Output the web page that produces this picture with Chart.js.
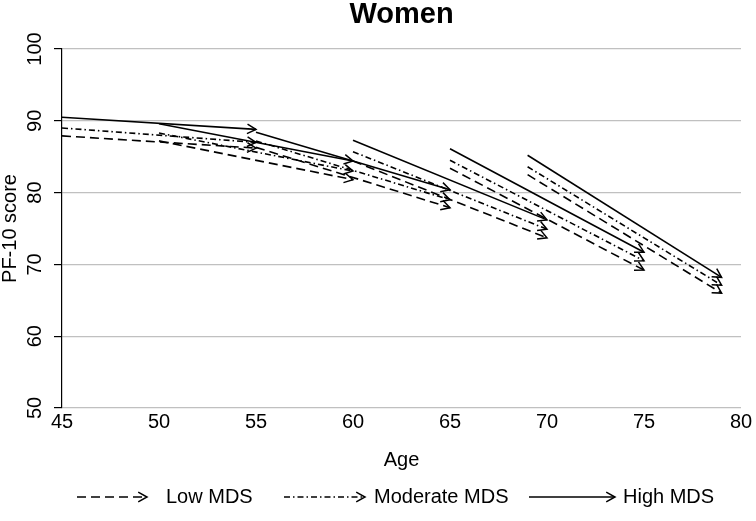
<!DOCTYPE html>
<html>
<head>
<meta charset="utf-8">
<script src="https://cdn.jsdelivr.net/npm/chart.js@4"></script>
<style>
  body { margin: 0; background: #fff; }
  #wrap { width: 756px; height: 521px; }
</style>
</head>
<body>
<div id="wrap"><canvas id="women-chart"></canvas></div>
<script>
// cohorts: each arrow runs 10 years of age
const cohortStart = [45, 50, 55, 60, 65, 69]
const cohortEnd = [55, 60, 65, 70, 75, 79]

// PF-10 score at start / end of each arrow
const lowFrom = [87.9, 87.2, 86.3, 84.4, 83.4, 82.5]
const lowTo = [86.2, 81.8, 77.9, 73.7, 69.2, 66.0]
const moderateFrom = [89.0, 88.3, 87.2, 85.7, 84.5, 83.6]
const moderateTo = [87.0, 83.0, 79.0, 74.9, 70.5, 67.1]
const highFrom = [90.5, 89.6, 88.4, 87.3, 86.1, 85.2]
const highTo = [88.8, 84.4, 80.4, 76.2, 71.7, 68.2]

const groupNames = ["Low MDS", "Moderate MDS", "High MDS"]
const groupFrom = [lowFrom, moderateFrom, highFrom]
const groupTo = [lowTo, moderateTo, highTo]
const groupDash = [[9, 5], [6, 3, 1.5, 3], []]

const FONT = '"Liberation Sans", Arial, sans-serif'
Chart.defaults.font.family = FONT
Chart.defaults.color = '#000'

const datasets = []
groupNames.forEach(function(name, g) {
  cohortStart.forEach(function(a, i) {
    datasets.push({
      label: name,
      data: [{x: a, y: groupFrom[g][i]}, {x: cohortEnd[i], y: groupTo[g][i]}],
      borderColor: '#000',
      borderWidth: 1.6,
      borderDash: groupDash[g],
      pointRadius: 0,
      fill: false
    })
  })
})

const drawHead = (ctx, x, y, angle) => {
  const len = 10, spread = 0.5
  ctx.save()
  ctx.setLineDash([])
  ctx.strokeStyle = '#000'
  ctx.lineWidth = 1.5
  ctx.beginPath()
  ctx.moveTo(x - len * Math.cos(angle - spread), y - len * Math.sin(angle - spread))
  ctx.lineTo(x, y)
  ctx.lineTo(x - len * Math.cos(angle + spread), y - len * Math.sin(angle + spread))
  ctx.stroke()
  ctx.restore()
}

const arrowPlugin = {
  id: 'arrows',
  afterDatasetsDraw(chart) {
    const ctx = chart.ctx
    chart.data.datasets.forEach(function(ds, i) {
      const pts = chart.getDatasetMeta(i).data
      if (pts.length < 2) return
      const p0 = pts[pts.length - 2], p1 = pts[pts.length - 1]
      drawHead(ctx, p1.x, p1.y, Math.atan2(p1.y - p0.y, p1.x - p0.x))
    })
  }
}

// legend row under the axis title
const legendPlugin = {
  id: 'arrowLegend',
  afterDraw(chart) {
    const ctx = chart.ctx
    const y = 497
    const lineStart = [77, 284, 529]
    const lineEnd = [147, 365, 615]
    const textX = [166, 374, 623]
    ctx.save()
    groupNames.forEach(function(name, g) {
      ctx.strokeStyle = '#000'
      ctx.lineWidth = 1.6
      ctx.setLineDash(groupDash[g])
      ctx.beginPath()
      ctx.moveTo(lineStart[g], y)
      ctx.lineTo(lineEnd[g], y)
      ctx.stroke()
      drawHead(ctx, lineEnd[g], y, 0)
      ctx.fillStyle = '#000'
      ctx.font = '20px ' + FONT
      ctx.textBaseline = 'middle'
      ctx.textAlign = 'left'
      ctx.fillText(name, textX[g], y)
    })
    ctx.restore()
  }
}

new Chart(document.getElementById('women-chart'), {
  type: 'line',
  data: { datasets: datasets },
  plugins: [arrowPlugin, legendPlugin],
  options: {
    animation: false,
    responsive: true,
    maintainAspectRatio: false,
    layout: { padding: { left: 0, right: 15, top: 0, bottom: 51 } },
    plugins: {
      legend: { display: false },
      tooltip: { enabled: false },
      title: {
        display: true,
        fullSize: false,
        text: 'Women',
        color: '#000',
        font: { size: 29, weight: 'bold', lineHeight: 1 },
        padding: { top: 0, bottom: 20 }
      }
    },
    scales: {
      x: {
        type: 'linear',
        min: 45,
        max: 80,
        ticks: { stepSize: 5, font: { size: 20 }, padding: 2, color: '#000' },
        grid: { display: false, drawTicks: false },
        border: { display: false },
        title: {
          display: true,
          text: 'Age',
          font: { size: 20, lineHeight: 1 },
          padding: { top: 0, bottom: 0 }
        },
        afterFit: s => { s.height = 62 }
      },
      y: {
        min: 50,
        max: 100,
        ticks: {
          stepSize: 10,
          font: { size: 20 },
          padding: 2,
          minRotation: 90,
          maxRotation: 90,
          crossAlign: 'center',
          color: '#000'
        },
        grid: { color: '#c0c0c0', tickColor: '#000', tickLength: 8, lineWidth: 1.2 },
        border: { color: '#000', width: 1.2 },
        title: {
          display: true,
          text: 'PF-10 score',
          font: { size: 20, lineHeight: 1 },
          padding: { top: 0, bottom: 0 }
        },
        afterFit: s => { s.width = 62 }
      }
    },
    elements: {
      line: { tension: 0 }
    }
  }
});
</script>
</body>
</html>
